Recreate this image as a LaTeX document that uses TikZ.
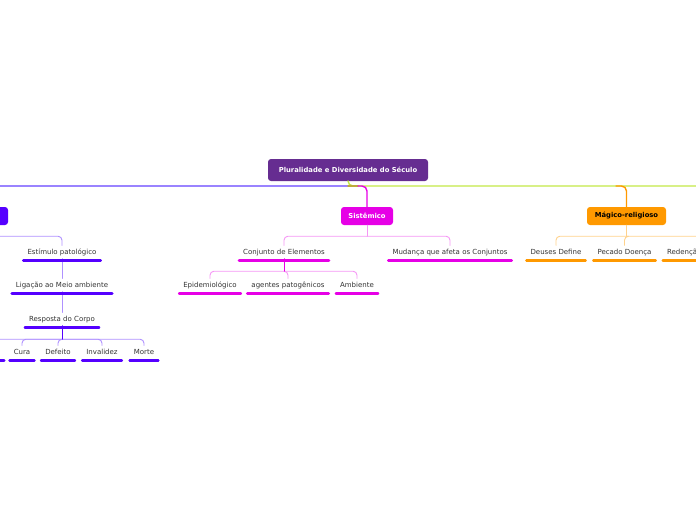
\documentclass[tikz,border=0pt]{standalone}
\usepackage{fontspec}
\newfontfamily\mapfont{DejaVu Sans}
\usetikzlibrary{positioning}
\definecolor{rootpurple}{RGB}{102,45,145}
\definecolor{mapblue}{RGB}{85,0,255}
\definecolor{mapblueline}{RGB}{100,65,255}
\definecolor{mapbluel}{RGB}{175,145,255}
\definecolor{mapmag}{RGB}{230,0,230}
\definecolor{mapmagl}{RGB}{245,150,245}
\definecolor{maporange}{RGB}{255,153,0}
\definecolor{maporangel}{RGB}{255,210,140}
\definecolor{mapgreen}{RGB}{195,232,70}
\definecolor{mapolive}{RGB}{190,170,60}
\definecolor{maptext}{RGB}{51,51,51}

\tikzset{
  box/.style={rectangle, rounded corners=3pt, minimum height=18pt, inner sep=0pt,
    font=\mapfont\bfseries\fontsize{6.8}{7}\selectfont, text=white},
  topic/.style={inner xsep=4pt, inner ysep=3pt, text height=5.5pt, text depth=1.5pt,
    text=maptext, font=\mapfont\fontsize{7}{8}\selectfont},
  ul/.style={line width=2.6pt, line cap=round},
  lnk/.style={line width=0.9pt, rounded corners=4pt},
  main/.style={line width=1.4pt, rounded corners=5pt}
}

\begin{document}
\begin{tikzpicture}[line cap=round,line join=round,x=1pt,y=-1pt]
\useasboundingbox (0,0) rectangle (696,520);
\clip (0,0) rectangle (696,520);

% central topic and main branches
\node[box, fill=rootpurple, minimum width=160pt, minimum height=22pt] (root) at (348,170) {Pluralidade e Diversidade do Século};
\coordinate (rootj) at (348,186);
\node[box, fill=mapblue, minimum width=76pt] (lft) at (-30,216) {};
\node[box, fill=mapmag, minimum width=52pt] (sis) at (367,216) {Sistêmico};
\node[box, fill=maporange, minimum width=79pt, text=black] (mag) at (626.5,216) {Mágico-religioso};
\coordinate (sisj0) at (358,186);
\coordinate (magj0) at (616,186);

\draw[main, mapblueline] (rootj) -| (lft.north);
\draw[main, mapgreen] (root.south) -- (rootj) -- (710,186);
\draw[line width=1.4pt, mapolive] (rootj) -- (sisj0);
\draw[main, mapmag] (sisj0) -| (sis.north);
\draw[main, maporange] (magj0) -| (mag.north);

% left branch
\node[topic] (est) at (62,252) {Estímulo patológico};
\node[topic] (lig) at (62,285) {Ligação ao Meio ambiente};
\node[topic] (res) at (62,319) {Resposta do Corpo};
\node[topic, minimum width=38pt] (cut) at (-15,352) {};
\node[topic] (cura) at (22,352) {Cura};
\node[topic] (def) at (58,352) {Defeito};
\node[topic] (inv) at (102,352) {Invalidez};
\node[topic] (mor) at (144,352) {Morte};

\draw[lnk, mapbluel] (lft.south) -- ++(0,11) -| (est.north);
\draw[lnk, mapbluel] (est.south) -- (lig.north);
\draw[lnk, mapbluel] (lig.south) -- (res.north);
\path (res.south) ++(0,13.5) coordinate (resj);
\foreach \n in {cut,cura,def,inv,mor}
  \draw[lnk, mapbluel] (resj) -| (\n.north);
\draw[line width=0.9pt, mapblue] (res.south) -- (resj);
\foreach \n in {est,lig,res,cut,cura,def,inv,mor}
  \draw[ul, mapblue] ([yshift=-1.5pt]\n.south west) -- ([yshift=-1.5pt]\n.south east);

% Sistemico
\node[topic] (conj) at (284,252) {Conjunto de Elementos};
\node[topic] (mud) at (450,252) {Mudança que afeta os Conjuntos};
\node[topic] (epi) at (210,285) {Epidemiológico};
\node[topic] (age) at (288,285) {agentes patogênicos};
\node[topic] (amb) at (357,285) {Ambiente};

\path (sis.south) ++(0,11) coordinate (sisj);
\draw[lnk, mapmagl] (sis.south) -- (sisj);
\draw[lnk, mapmagl] (sisj) -| (conj.north);
\draw[lnk, mapmagl] (sisj) -| (mud.north);
\path (conj.south) ++(0,12.5) coordinate (conjj);
\foreach \n in {epi,age,amb}
  \draw[lnk, mapmagl] (conjj) -| (\n.north);
\draw[line width=0.9pt, mapmag] (conj.south) -- (conjj);
\foreach \n in {conj,mud,epi,age,amb}
  \draw[ul, mapmag] ([yshift=-1.5pt]\n.south west) -- ([yshift=-1.5pt]\n.south east);

% Magico-religioso
\node[topic] (deu) at (556,252) {Deuses Define};
\node[topic] (pec) at (624.5,252) {Pecado Doença};
\node[topic, text width=80pt, align=left] (red) at (707,252) {Redenção};

\path (mag.south) ++(0,11) coordinate (magj);
\draw[lnk, maporangel] (mag.south) -- (magj);
\foreach \n in {deu,pec,red}
  \draw[lnk, maporangel] (magj) -| (\n.north);
\foreach \n in {deu,pec,red}
  \draw[ul, maporange] ([yshift=-1.5pt]\n.south west) -- ([yshift=-1.5pt]\n.south east);
\end{tikzpicture}
\end{document}
